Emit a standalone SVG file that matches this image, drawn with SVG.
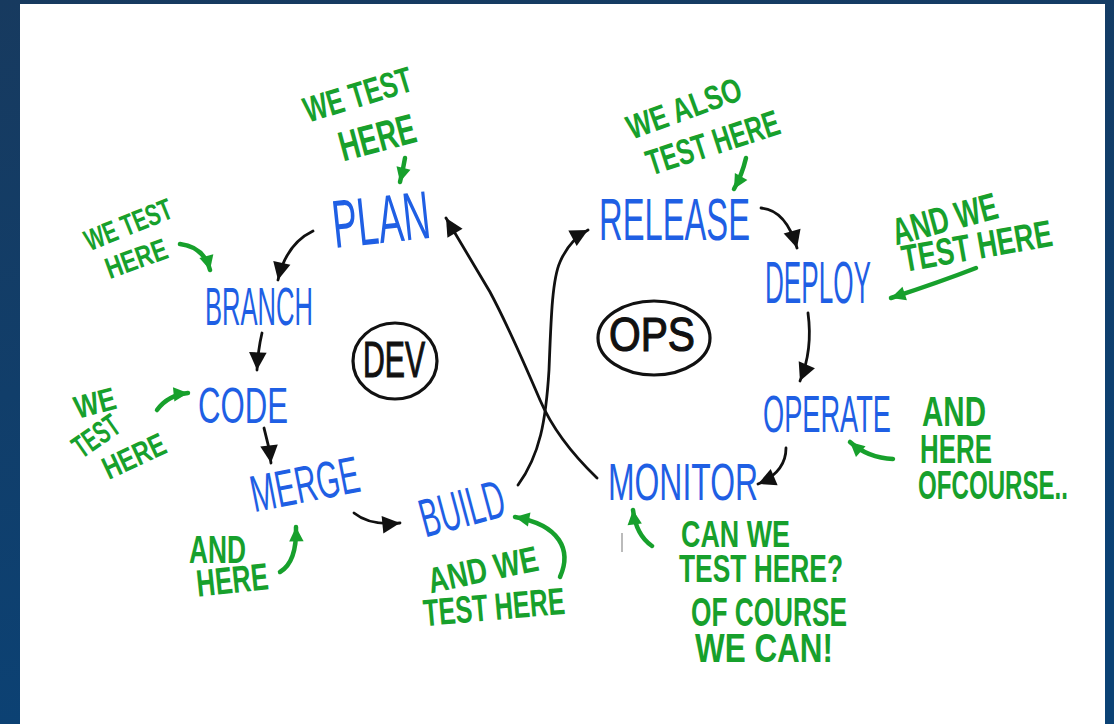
<svg xmlns="http://www.w3.org/2000/svg" width="1114" height="724" viewBox="0 0 1114 724">
<defs>
<linearGradient id="bg" x1="0" y1="0" x2="0.3" y2="1">
<stop offset="0" stop-color="#173a5f"/>
<stop offset="1" stop-color="#0b4275"/>
</linearGradient>
<marker id="ah" markerUnits="userSpaceOnUse" markerWidth="22" markerHeight="22" viewBox="0 0 20 20" refX="18" refY="10" orient="auto">
<path d="M2,2 L18,10 L2,18 Z" fill="#111"/>
</marker>
<marker id="gh" markerUnits="userSpaceOnUse" markerWidth="18" markerHeight="18" viewBox="0 0 20 20" refX="18" refY="10" orient="auto">
<path d="M2,2 L18,10 L2,18 Z" fill="#17a02c"/>
</marker>
<style>
.blue{fill:#1f5fe4;font-family:"Liberation Sans Narrow","Liberation Sans",sans-serif;font-weight:normal;}
.green{fill:#17a02c;font-family:"Liberation Sans Narrow","Liberation Sans",sans-serif;font-weight:bold;}
.blk{fill:#111;font-family:"Liberation Sans Narrow","Liberation Sans",sans-serif;}
.con{fill:none;stroke:#111;stroke-width:2.8;stroke-linecap:round;}
.gcon{fill:none;stroke:#17a02c;stroke-width:4.5;stroke-linecap:round;}
.ring{fill:none;stroke:#111;stroke-width:3.2;}
</style>
</defs>
<rect x="0" y="0" width="1114" height="724" fill="url(#bg)"/>
<rect x="20" y="4" width="1085" height="730" fill="#ffffff"/>

<g id="connectors">
<path class="con" d="M313,231 Q286,244 278,280" marker-end="url(#ah)"/>
<path class="con" d="M262,333 Q258,350 257,370" marker-end="url(#ah)"/>
<path class="con" d="M264,428 Q269,445 271,463" marker-end="url(#ah)"/>
<path class="con" d="M354,513 Q370,526 400,523" marker-end="url(#ah)"/>
<path class="con" d="M761,208 Q786,210 797,248" marker-end="url(#ah)"/>
<path class="con" d="M808,313 Q813,350 800,381" marker-end="url(#ah)"/>
<path class="con" d="M786,448 Q786,472 758,484" marker-end="url(#ah)"/>
<path class="con" d="M597,478 C570,452 552,428 540,400 C525,365 505,320 490,292 L446,218" marker-end="url(#ah)"/>
<path class="con" d="M518,485 C540,455 546,420 549,370 C551,320 552,280 560,262 C566,248 575,237 588,230" marker-end="url(#ah)"/>
<path class="gcon" d="M405,158 Q403,170 400,182" marker-end="url(#gh)"/>
<path class="gcon" d="M180,244 Q204,247 210,270" marker-end="url(#gh)"/>
<path class="gcon" d="M157,410 Q168,395 188,393" marker-end="url(#gh)"/>
<path class="gcon" d="M280,572 Q297,562 296,527" marker-end="url(#gh)"/>
<path class="gcon" d="M560,577 C572,550 560,525 515,517" marker-end="url(#gh)"/>
<path class="gcon" d="M746,158 Q742,175 734,189" marker-end="url(#gh)"/>
<path class="gcon" d="M976,268 Q940,282 891,298" marker-end="url(#gh)"/>
<path class="gcon" d="M893,459 Q868,458 850,442" marker-end="url(#gh)"/>
<path class="gcon" d="M652,546 Q636,535 633,510" marker-end="url(#gh)"/>
<path d="M622,533 L622,552" stroke="#bbbbbb" stroke-width="2"/>
</g>

<g id="plan"><text class="blue" x="332" y="243" font-size="68" textLength="98" lengthAdjust="spacingAndGlyphs" transform="rotate(-6 381 220)">PLAN</text></g>
<g id="branch"><text class="blue" x="205" y="325" font-size="54" textLength="108" lengthAdjust="spacingAndGlyphs">BRANCH</text></g>
<g id="code"><text class="blue" x="198" y="423" font-size="50" textLength="90" lengthAdjust="spacingAndGlyphs">CODE</text></g>
<g id="merge"><text class="blue" x="250" y="502" font-size="52" textLength="110" lengthAdjust="spacingAndGlyphs" transform="rotate(-11 305 485)">MERGE</text></g>
<g id="build"><text class="blue" x="420" y="527" font-size="54" textLength="86" lengthAdjust="spacingAndGlyphs" transform="rotate(-15 463 512)">BUILD</text></g>
<g id="release"><text class="blue" x="599" y="240" font-size="59" textLength="151" lengthAdjust="spacingAndGlyphs">RELEASE</text></g>
<g id="deploy"><text class="blue" x="765" y="303" font-size="60" textLength="106" lengthAdjust="spacingAndGlyphs">DEPLOY</text></g>
<g id="operate"><text class="blue" x="763" y="432" font-size="51" textLength="128" lengthAdjust="spacingAndGlyphs">OPERATE</text></g>
<g id="monitor"><text class="blue" x="608" y="500" font-size="51" textLength="150" lengthAdjust="spacingAndGlyphs">MONITOR</text></g>

<g id="dev">
<ellipse class="ring" cx="395" cy="361" rx="42" ry="38"/>
<text class="blk" x="394" y="377" font-size="50" text-anchor="middle" textLength="62" lengthAdjust="spacingAndGlyphs" stroke="#111" stroke-width="1.2">DEV</text>
</g>
<g id="ops">
<ellipse class="ring" cx="654" cy="338" rx="56" ry="37"/>
<text class="blk" x="652" y="351" font-size="48" text-anchor="middle" textLength="86" lengthAdjust="spacingAndGlyphs" stroke="#111" stroke-width="1.2">OPS</text>
</g>

<g id="note-plan">
<text class="green" x="358" y="107" font-size="36" text-anchor="middle" textLength="112" lengthAdjust="spacingAndGlyphs" transform="rotate(-17 358 95)">WE TEST</text>
<text class="green" x="377" y="152" font-size="42" text-anchor="middle" textLength="78" lengthAdjust="spacingAndGlyphs" transform="rotate(-15 377 137)">HERE</text>
</g>
<g id="note-branch">
<text class="green" x="128" y="235" font-size="30" text-anchor="middle" textLength="92" lengthAdjust="spacingAndGlyphs" transform="rotate(-22 128 224)">WE TEST</text>
<text class="green" x="136" y="269" font-size="30" text-anchor="middle" textLength="64" lengthAdjust="spacingAndGlyphs" transform="rotate(-20 136 258)">HERE</text>
</g>
<g id="note-code">
<text class="green" x="95" y="414" font-size="32" text-anchor="middle" textLength="42" lengthAdjust="spacingAndGlyphs" transform="rotate(-15 95 403)">WE</text>
<text class="green" x="96" y="447" font-size="32" text-anchor="middle" textLength="50" lengthAdjust="spacingAndGlyphs" transform="rotate(-35 96 436)">TEST</text>
<text class="green" x="134" y="467" font-size="32" text-anchor="middle" textLength="66" lengthAdjust="spacingAndGlyphs" transform="rotate(-25 134 456)">HERE</text>
</g>
<g id="note-merge">
<text class="green" x="189" y="563" font-size="38" textLength="57" lengthAdjust="spacingAndGlyphs">AND</text>
<text class="green" x="196" y="593" font-size="38" textLength="72" lengthAdjust="spacingAndGlyphs" transform="rotate(-6 232 578)">HERE</text>
</g>
<g id="note-build">
<text class="green" x="483" y="582" font-size="36" text-anchor="middle" textLength="112" lengthAdjust="spacingAndGlyphs" transform="rotate(-12 483 570)">AND WE</text>
<text class="green" x="494" y="620" font-size="38" text-anchor="middle" textLength="142" lengthAdjust="spacingAndGlyphs" transform="rotate(-5 494 607)">TEST HERE</text>
</g>
<g id="note-release">
<text class="green" x="684" y="120" font-size="34" text-anchor="middle" textLength="120" lengthAdjust="spacingAndGlyphs" transform="rotate(-20 684 108)">WE ALSO</text>
<text class="green" x="713" y="155" font-size="36" text-anchor="middle" textLength="138" lengthAdjust="spacingAndGlyphs" transform="rotate(-18 713 143)">TEST HERE</text>
</g>
<g id="note-deploy">
<text class="green" x="945" y="232" font-size="38" text-anchor="middle" textLength="108" lengthAdjust="spacingAndGlyphs" transform="rotate(-15 945 220)">AND WE</text>
<text class="green" x="977" y="259" font-size="38" text-anchor="middle" textLength="152" lengthAdjust="spacingAndGlyphs" transform="rotate(-10 977 247)">TEST HERE</text>
</g>
<g id="note-operate">
<text class="green" x="922" y="426" font-size="42" textLength="64" lengthAdjust="spacingAndGlyphs">AND</text>
<text class="green" x="920" y="463" font-size="40" textLength="72" lengthAdjust="spacingAndGlyphs">HERE</text>
<text class="green" x="918" y="499" font-size="40" textLength="150" lengthAdjust="spacingAndGlyphs">OFCOURSE..</text>
</g>
<g id="note-monitor">
<text class="green" x="681" y="547" font-size="36" textLength="109" lengthAdjust="spacingAndGlyphs">CAN WE</text>
<text class="green" x="679" y="582" font-size="38" textLength="164" lengthAdjust="spacingAndGlyphs">TEST HERE?</text>
<text class="green" x="691" y="626" font-size="40" textLength="156" lengthAdjust="spacingAndGlyphs">OF COURSE</text>
<text class="green" x="695" y="662" font-size="40" textLength="138" lengthAdjust="spacingAndGlyphs">WE CAN!</text>
</g>
</svg>
